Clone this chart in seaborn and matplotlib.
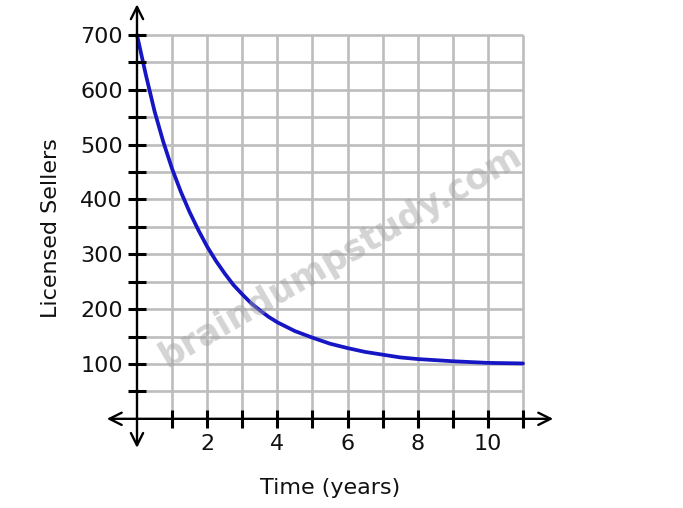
import matplotlib
matplotlib.use("Agg")
import matplotlib.pyplot as plt
import seaborn as sns
import numpy as np
import pandas as pd

# Data
time_years = [0, 0.25, 0.5, 0.75, 1, 1.25, 1.5, 1.75, 2, 2.25, 2.5, 2.75, 3,
              3.25, 3.5, 3.75, 4, 4.5, 5, 5.5, 6, 6.5, 7, 7.5, 8, 9, 10, 11]
sellers = [700, 628, 561, 505, 456, 414, 377, 344, 314, 288, 265, 244, 227,
           211, 198, 186, 176, 160, 148, 137, 129, 122, 117, 112, 109, 105,
           102, 101]
x_tick_labels = ["2", "4", "6", "8", "10"]
y_tick_labels = ["100", "200", "300", "400", "500", "600", "700"]

sns.set_theme(style="white")
plt.rcParams['font.family'] = ['DejaVu Sans']

fig = plt.figure(figsize=(6.83, 5.08), dpi=100)
ax = fig.add_axes([0.1492, 0.1000, 0.6782, 0.8959])
ax.set_xlim(-1, 12.2)
ax.set_ylim(-70, 760)

# grid
xs_grid = np.arange(1, 12)
ys_grid = np.arange(50, 701, 50)
ax.vlines(xs_grid, 0, 700, colors="#bdbdbd", linewidth=1.9, zorder=0.5)
ax.hlines(ys_grid, 0, 11, colors="#bdbdbd", linewidth=1.9, zorder=0.5)

df = pd.DataFrame({"t": time_years, "s": sellers})
sns.lineplot(data=df, x="t", y="s", ax=ax, color="#1616c4", linewidth=2.7,
             zorder=3)

# axes with arrows
for sp in ax.spines.values():
    sp.set_visible(False)
ax.spines['left'].set_position(('data', 0))
ax.spines['bottom'].set_position(('data', 0))
ax.annotate("", xy=(11.86, 0), xytext=(-0.86, 0),
            arrowprops=dict(arrowstyle="<->", color="black", lw=1.7,
                            mutation_scale=22, shrinkA=0, shrinkB=0), zorder=4)
ax.annotate("", xy=(0, 756), xytext=(0, -53),
            arrowprops=dict(arrowstyle="<->", color="black", lw=1.7,
                            mutation_scale=22, shrinkA=0, shrinkB=0), zorder=4)

# ticks crossing the axes
ax.set_xticks(np.arange(1, 12))
ax.set_xticklabels(["" if v % 2 else str(v) for v in range(1, 12)])
ax.set_yticks(np.arange(50, 701, 50))
ax.set_yticklabels([str(v) if v % 100 == 0 else "" for v in range(50, 701, 50)])
ax.xaxis.set_ticks_position("bottom")
ax.yaxis.set_ticks_position("left")
ax.tick_params(axis="both", which="major", direction="inout", length=12.5,
               width=2.2, color="black", labelsize=16, labelcolor="#111111")
ax.tick_params(axis="x", pad=5)
ax.tick_params(axis="y", pad=4)
ax.xaxis.set_zorder(5)
ax.yaxis.set_zorder(5)
ax.set_xlabel("")
ax.set_ylabel("")

fig.text(330 / 683, 1 - 488 / 508, "Time (years)", ha="center", va="center",
         fontsize=16, color="#111111")
fig.text(51 / 683, 1 - 228 / 508, "Licensed Sellers", ha="center", va="center",
         rotation=90, fontsize=16, color="#111111")

# watermark
fig.text(340 / 683, 1 - 256 / 508, "braindumpstudy.com", ha="center",
         va="center", rotation=30, fontsize=25, fontweight="bold",
         color="#a0a0a0", alpha=0.45, zorder=10)

fig.savefig("out.png", dpi=100)
